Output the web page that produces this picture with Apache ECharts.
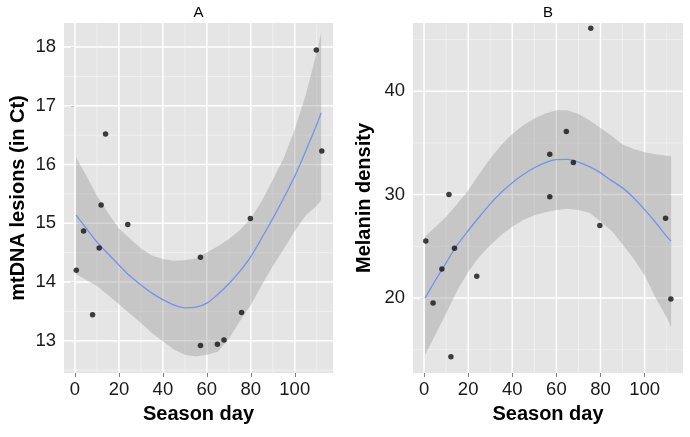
<!DOCTYPE html>
<html><head><meta charset="utf-8">
<script src="https://cdn.jsdelivr.net/npm/echarts@6/dist/echarts.min.js"></script>
<style>html,body{margin:0;padding:0;background:#fff}#c{width:690px;height:437px}</style>
</head><body><div id="c"></div>
<script>
// Observations
const daysA = [0.6, 3.9, 8, 11, 11.9, 13.9, 24, 57.1, 57.1, 64.8, 67.8, 75.8, 79.8, 109.8, 112.3];
const mtdna = [14.2, 14.87, 13.44, 14.58, 15.31, 16.52, 14.98, 14.42, 12.92, 12.94, 13.01, 13.48, 15.08, 17.95, 16.23];
const daysB = [0.8, 4.1, 8.1, 11.3, 12.2, 13.8, 23.9, 57, 57, 64.5, 67.7, 75.6, 79.7, 109.5, 111.9];
const melanin = [25.5, 19.5, 22.8, 30.0, 14.3, 24.8, 22.1, 33.9, 29.8, 36.1, 33.1, 46.1, 27.0, 27.7, 19.9];

// Smoother (loess fit and confidence band)
const fitX   = [0.5, 5, 10, 15, 20, 25, 30, 35, 40, 45, 50, 55, 60, 65, 70, 75, 80, 85, 90, 95, 100, 105, 110, 112];
const fitA   = [15.14, 14.92, 14.68, 14.48, 14.29, 14.10, 13.95, 13.81, 13.70, 13.61, 13.56, 13.57, 13.64, 13.79, 13.97, 14.18, 14.43, 14.75, 15.08, 15.43, 15.80, 16.23, 16.68, 16.88];
const upperA = [16.12, 15.82, 15.47, 15.18, 14.91, 14.74, 14.57, 14.45, 14.39, 14.36, 14.37, 14.40, 14.50, 14.61, 14.73, 14.88, 15.08, 15.38, 15.74, 16.11, 16.60, 17.19, 17.91, 18.24];
const lowerA = [14.13, 14.04, 13.93, 13.78, 13.62, 13.46, 13.30, 13.13, 12.99, 12.85, 12.76, 12.73, 12.76, 12.81, 13.03, 13.33, 13.61, 13.95, 14.27, 14.56, 14.87, 15.13, 15.30, 15.40];
const fitB   = [19.99, 21.65, 23.4, 25.1, 26.5, 27.83, 29.1, 30.2, 31.15, 31.95, 32.6, 33.1, 33.38, 33.4, 33.15, 32.7, 32.1, 31.35, 30.65, 29.7, 28.55, 27.3, 25.95, 25.5];
const upperB = [25.95, 26.83, 27.85, 29.1, 30.4, 32.0, 33.5, 34.8, 35.85, 36.7, 37.35, 37.85, 38.15, 38.15, 37.8, 37.2, 36.45, 35.7, 34.85, 34.4, 34.1, 33.9, 33.75, 33.7];
const lowerB = [14.47, 16.4, 18.5, 20.7, 22.5, 23.96, 25.1, 26.1, 26.9, 27.55, 28.0, 28.3, 28.5, 28.62, 28.5, 28.25, 27.4, 26.5, 25.2, 23.8, 22.2, 20.0, 18.1, 17.2];

// Ticks
const xMajor = [0, 20, 40, 60, 80, 100];
const xMinor = [10, 30, 50, 70, 90, 110];
const yMajorA = [13, 14, 15, 16, 17, 18];
const yMinorA = [12.5, 13.5, 14.5, 15.5, 16.5, 17.5];
const yMajorB = [20, 30, 40];
const yMinorB = [15, 25, 35, 45];

const chart = echarts.init(document.getElementById('c'));
const FONT = 'Liberation Sans, Arial, sans-serif';
const BG = '#E5E5E5';
const TICK_FS = 18.5;
const TITLE_FS = 20;

function gridSeries(gi, xs, xm, ys, ym) {
  return {
    type: 'custom', xAxisIndex: gi, yAxisIndex: gi, silent: true, z: 1,
    data: [[0, 0]],
    renderItem: function (params, api) {
      const cs = params.coordSys;
      const children = [];
      const add = (isX, v, major) => {
        let shape;
        if (isX) {
          const px = api.coord([v, 0])[0];
          shape = {x1: px, y1: cs.y, x2: px, y2: cs.y + cs.height};
        } else {
          const py = api.coord([0, v])[1];
          shape = {x1: cs.x, y1: py, x2: cs.x + cs.width, y2: py};
        }
        children.push({type: 'line', shape: shape,
          style: {stroke: major ? '#FFFFFF' : '#F2F2F2', lineWidth: major ? 1.5 : 0.8}});
      };
      xm.forEach(v => add(true, v, false));
      ym.forEach(v => add(false, v, false));
      xs.forEach(v => add(true, v, true));
      ys.forEach(v => add(false, v, true));
      return {type: 'group', children: children};
    }
  };
}

function bandSeries(gi, lo, up) {
  return {
    type: 'custom', xAxisIndex: gi, yAxisIndex: gi, silent: true, z: 2,
    data: [[fitX[0], lo[0]]],
    renderItem: function (params, api) {
      const pts = [];
      fitX.forEach((x, i) => pts.push(api.coord([x, up[i]])));
      for (let i = fitX.length - 1; i >= 0; i--) pts.push(api.coord([fitX[i], lo[i]]));
      return {type: 'polygon', shape: {points: pts, smooth: 0},
        style: {fill: 'rgba(153,153,153,0.4)'}};
    }
  };
}

function xAxisOpt(gi) {
  return {
    type: 'value', gridIndex: gi, min: -5, max: 117.4,
    name: 'Season day', nameLocation: 'middle', nameGap: 31,
    nameTextStyle: {fontFamily: FONT, fontSize: TITLE_FS, fontWeight: 'bold', color: '#000'},
    axisLine: {show: false},
    axisTick: {show: true, length: 4, lineStyle: {color: '#7F7F7F'}, customValues: xMajor},
    axisLabel: {fontFamily: FONT, fontSize: TICK_FS, color: '#1a1a1a', margin: 7, customValues: xMajor},
    splitLine: {show: false}
  };
}
function yAxisOpt(gi, min, max, name, gap, major) {
  return {
    type: 'value', gridIndex: gi, min: min, max: max,
    name: name, nameLocation: 'middle', nameGap: gap,
    nameTextStyle: {fontFamily: FONT, fontSize: TITLE_FS, fontWeight: 'bold', color: '#000'},
    axisLine: {show: false},
    axisTick: {show: true, length: 4, lineStyle: {color: '#7F7F7F'}, customValues: major},
    axisLabel: {fontFamily: FONT, fontSize: TICK_FS, color: '#1a1a1a', margin: 8, customValues: major},
    splitLine: {show: false}
  };
}

function panelSeries(gi, fit, lo, up, days, vals, xs, xm, ys, ym) {
  return [
    gridSeries(gi, xs, xm, ys, ym),
    bandSeries(gi, lo, up),
    {type: 'line', xAxisIndex: gi, yAxisIndex: gi, silent: true, symbol: 'none', smooth: 0.3,
     data: fitX.map((x, i) => [x, fit[i]]), lineStyle: {color: '#7393EC', width: 1.3}, z: 3},
    {type: 'scatter', xAxisIndex: gi, yAxisIndex: gi, symbol: 'circle', symbolSize: 5.5,
     data: days.map((x, i) => [x, vals[i]]), itemStyle: {color: '#111'}, z: 4}
  ];
}

chart.setOption({
  animation: false,
  backgroundColor: '#fff',
  grid: [
    {left: 64, top: 23, width: 269, height: 350, show: true, backgroundColor: BG, borderWidth: 0},
    {left: 413, top: 23, width: 270, height: 350, show: true, backgroundColor: BG, borderWidth: 0}
  ],
  xAxis: [xAxisOpt(0), xAxisOpt(1)],
  yAxis: [
    yAxisOpt(0, 12.45, 18.41, 'mtDNA lesions (in Ct)', 36, yMajorA),
    yAxisOpt(1, 12.74, 46.6, 'Melanin density', 39, yMajorB)
  ],
  graphic: [
    {type: 'text', x: 198.5, y: 13, style: {text: 'A', fontFamily: FONT, fontSize: 15, fill: '#000', textAlign: 'center', textVerticalAlign: 'middle'}},
    {type: 'text', x: 548, y: 13, style: {text: 'B', fontFamily: FONT, fontSize: 15, fill: '#000', textAlign: 'center', textVerticalAlign: 'middle'}}
  ],
  series: [].concat(
    panelSeries(0, fitA, lowerA, upperA, daysA, mtdna, xMajor, xMinor, yMajorA, yMinorA),
    panelSeries(1, fitB, lowerB, upperB, daysB, melanin, xMajor, xMinor, yMajorB, yMinorB)
  )
});
</script>
</body></html>
